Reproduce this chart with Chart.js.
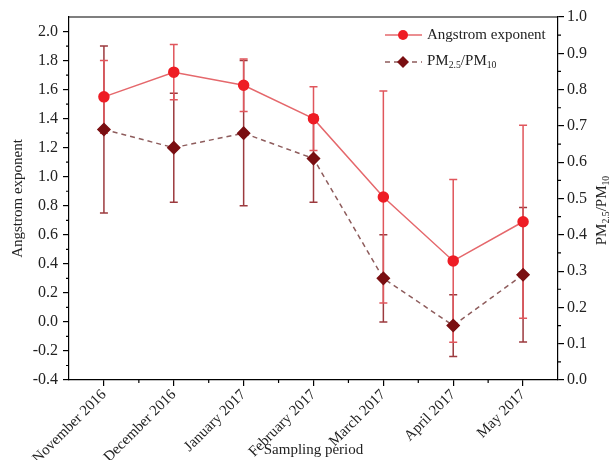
<!DOCTYPE html>
<html>
<head>
<meta charset="utf-8">
<script src="https://cdn.jsdelivr.net/npm/chart.js@4.4.1/dist/chart.umd.min.js"></script>
<style>
  html, body { margin: 0; padding: 0; background: #fff; }
  canvas { display: block; }
</style>
</head>
<body>
<canvas id="myChart" width="613" height="460"></canvas>
<script>
const categories = ["November 2016", "December 2016", "January 2017", "February 2017", "March 2017", "April 2017", "May 2017"];
const angstromValues = [1.55, 1.72, 1.63, 1.40, 0.86, 0.42, 0.69];
const angstromErrors = [0.25, 0.19, 0.18, 0.22, 0.73, 0.56, 0.665];
const ratioValues = [0.69, 0.64, 0.68, 0.61, 0.28, 0.15, 0.29];
const ratioErrors = [0.23, 0.15, 0.20, 0.12, 0.12, 0.085, 0.185];
const leftTicks = [-0.4, -0.2, 0.0, 0.2, 0.4, 0.6, 0.8, 1.0, 1.2, 1.4, 1.6, 1.8, 2.0];
const rightTicks = [0.0, 0.1, 0.2, 0.3, 0.4, 0.5, 0.6, 0.7, 0.8, 0.9, 1.0];

const FONT = "'Liberation Serif', 'Times New Roman', serif";
const TEXT = "#222";
const RED = "#ee1d25";
const RED_LINE = "#e5686c";
const RED_BAR = "#e0565c";
const DARK = "#7a0f12";
const DARK_LINE = "#8e5c5c";
const DARK_BAR = "#9c3a3e";

// error bars behind the lines, from each dataset's errors array
const errorBars = {
    id: "errorBars",
    beforeDatasetsDraw(chart) {
        const ctx = chart.ctx;
        const xs = chart.scales.x;
        chart.data.datasets.slice().reverse().forEach(ds => {
            const ys = chart.scales[ds.yAxisID];
            ctx.save();
            ctx.strokeStyle = ds.errorColor;
            ctx.lineWidth = 1.5;
            ds.data.forEach((v, i) => {
                const px = xs.getPixelForValue(i);
                const top = ys.getPixelForValue(v + ds.errors[i]);
                const bot = ys.getPixelForValue(v - ds.errors[i]);
                ctx.beginPath();
                ctx.moveTo(px, top); ctx.lineTo(px, bot);
                ctx.moveTo(px - 4, top); ctx.lineTo(px + 4, top);
                ctx.moveTo(px - 4, bot); ctx.lineTo(px + 4, bot);
                ctx.stroke();
            });
            ctx.restore();
        });
    }
};

function subTextWidth(ctx, parts, size) {
    let w = 0;
    parts.forEach(p => {
        ctx.font = (p[1] ? size * 0.65 : size) + "px " + FONT;
        w += ctx.measureText(p[0]).width;
    });
    return w;
}

function drawSubText(ctx, parts, x, y, size) {
    let cx = x;
    parts.forEach(p => {
        ctx.font = (p[1] ? size * 0.65 : size) + "px " + FONT;
        ctx.fillText(p[0], cx, p[1] ? y + size * 0.3 : y);
        cx += ctx.measureText(p[0]).width;
    });
}

const ratioParts = [["PM", false], ["2.5", true], ["/PM", false], ["10", true]];

const decorations = {
    id: "decorations",
    afterDraw(chart) {
        const ctx = chart.ctx;
        const a = chart.chartArea;
        const xs = chart.scales.x, yl = chart.scales.y, yr = chart.scales.y1;
        ctx.save();
        ctx.strokeStyle = "#000";
        ctx.lineWidth = 1.2;
        ctx.beginPath();
        // top frame
        ctx.moveTo(a.left, a.top); ctx.lineTo(a.right, a.top);
        // minor ticks
        for (let v = yl.min + 0.1; v < yl.max - 0.05; v += 0.2) {
            const p = yl.getPixelForValue(v);
            ctx.moveTo(a.left - 3, p); ctx.lineTo(a.left, p);
        }
        for (let v = 0.05; v < 1; v += 0.1) {
            const p = yr.getPixelForValue(v);
            ctx.moveTo(a.right, p); ctx.lineTo(a.right + 3, p);
        }
        for (let i = 0; i < categories.length - 1; i++) {
            const p = (xs.getPixelForValue(i) + xs.getPixelForValue(i + 1)) / 2;
            ctx.moveTo(p, a.bottom); ctx.lineTo(p, a.bottom + 3);
        }
        ctx.stroke();

        // right axis title
        ctx.fillStyle = TEXT;
        ctx.textBaseline = "middle";
        ctx.textAlign = "left";
        const w = subTextWidth(ctx, ratioParts, 15);
        ctx.translate(602, (a.top + a.bottom) / 2 + 12);
        ctx.rotate(-Math.PI / 2);
        drawSubText(ctx, ratioParts, -w / 2, 0, 15);
        ctx.restore();

        // legend
        ctx.save();
        ctx.lineWidth = 1.5;
        ctx.strokeStyle = RED_LINE;
        ctx.beginPath(); ctx.moveTo(385, 35); ctx.lineTo(422, 35); ctx.stroke();
        ctx.fillStyle = RED;
        ctx.beginPath(); ctx.arc(403, 35, 5, 0, Math.PI * 2); ctx.fill();
        ctx.strokeStyle = DARK_LINE;
        ctx.setLineDash([5, 4]);
        ctx.beginPath(); ctx.moveTo(385, 62); ctx.lineTo(422, 62); ctx.stroke();
        ctx.setLineDash([]);
        ctx.fillStyle = DARK;
        ctx.beginPath();
        ctx.moveTo(403, 56); ctx.lineTo(409, 62); ctx.lineTo(403, 68); ctx.lineTo(397, 62);
        ctx.closePath(); ctx.fill();
        ctx.fillStyle = TEXT;
        ctx.textBaseline = "middle";
        ctx.font = "15px " + FONT;
        ctx.fillText("Angstrom exponent", 427, 35);
        drawSubText(ctx, ratioParts, 427, 61, 15);
        ctx.restore();
    }
};

new Chart("myChart", {
    type: "line",
    data: {
        labels: categories,
        datasets: [{
            label: "Angstrom exponent",
            data: angstromValues,
            errors: angstromErrors,
            errorColor: RED_BAR,
            yAxisID: "y",
            borderColor: RED_LINE,
            borderWidth: 1.5,
            pointBackgroundColor: RED,
            pointBorderColor: RED,
            pointRadius: 5,
            pointStyle: "circle",
            tension: 0
        }, {
            label: "PM2.5/PM10",
            data: ratioValues,
            errors: ratioErrors,
            errorColor: DARK_BAR,
            yAxisID: "y1",
            borderColor: DARK_LINE,
            borderWidth: 1.5,
            borderDash: [5, 4],
            pointBackgroundColor: DARK,
            pointBorderColor: DARK,
            pointRadius: 6,
            pointStyle: "rectRot",
            tension: 0
        }]
    },
    options: {
        responsive: false,
        animation: false,
        layout: { padding: { top: 17, left: 0, right: 0, bottom: 0 } },
        plugins: {
            legend: { display: false },
            tooltip: { enabled: false }
        },
        scales: {
            x: {
                offset: true,
                grid: { drawOnChartArea: false, color: "#000", tickLength: 6, lineWidth: 1.2 },
                border: { color: "#000", width: 1.2 },
                ticks: {
                    color: TEXT, font: { family: FONT, size: 15 },
                    maxRotation: 45, minRotation: 45, padding: 0, autoSkip: false
                },
                title: {
                    display: true, text: "Sampling period", color: TEXT,
                    font: { family: FONT, size: 15 }, padding: { top: 0, bottom: 1 }
                },
                afterFit(s) { s.height = 80; }
            },
            y: {
                position: "left",
                min: -0.4, max: 2.1,
                afterBuildTicks(s) { s.ticks = leftTicks.map(v => ({ value: v })); },
                grid: { drawOnChartArea: false, color: "#000", tickLength: 6, lineWidth: 1.2 },
                border: { color: "#000", width: 1.2 },
                ticks: {
                    color: TEXT, font: { family: FONT, size: 16 }, padding: 5,
                    callback: v => v.toFixed(1)
                },
                title: {
                    display: true, text: "Angstrom exponent", color: TEXT,
                    font: { family: FONT, size: 15 }, padding: { top: 9, bottom: 0 }
                },
                afterFit(s) { s.width = 69; }
            },
            y1: {
                position: "right",
                min: 0, max: 1.0,
                afterBuildTicks(s) { s.ticks = rightTicks.map(v => ({ value: v })); },
                grid: { drawOnChartArea: false, color: "#000", tickLength: 6, lineWidth: 1.2 },
                border: { color: "#000", width: 1.2 },
                ticks: {
                    color: TEXT, font: { family: FONT, size: 16 }, padding: 3,
                    callback: v => v.toFixed(1)
                },
                afterFit(s) { s.width = 55; }
            }
        }
    },
    plugins: [errorBars, decorations]
});
</script>
</body>
</html>
